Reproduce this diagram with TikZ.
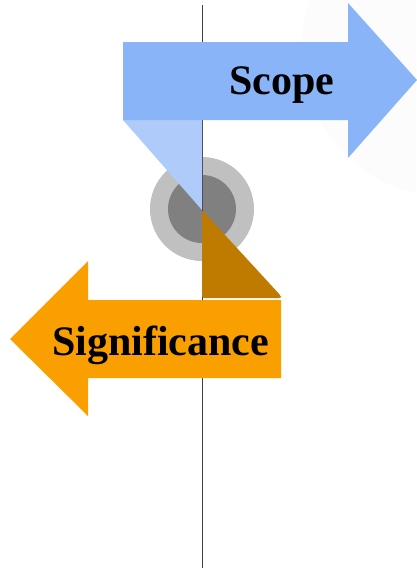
\documentclass[tikz,border=0pt]{standalone}
\usepackage{fontspec}
\setmainfont{Liberation Serif}
\definecolor{blueA}{HTML}{8AB4F8}
\definecolor{blueB}{HTML}{AECBFA}
\definecolor{orangeA}{HTML}{F9A000}
\definecolor{orangeB}{HTML}{BF7B00}
\definecolor{ringA}{HTML}{C0C0C0}
\definecolor{ringB}{HTML}{808080}
\definecolor{faint}{HTML}{FCFCFC}
\tikzset{lbl/.style={font=\bfseries\fontsize{42}{42}\selectfont, inner sep=0pt, anchor=base west, text=black}}
\begin{document}
\begin{tikzpicture}[x=1pt,y=-1pt]
\useasboundingbox (0,0) rectangle (416,568);
\fill[white] (0,0) rectangle (416,568);
\begin{scope}
\clip (0,0) rectangle (416,568);
\fill[faint] (452,48) circle (150);
\end{scope}
% rings
\fill[ringA] (202,209) circle (52);
\fill[ringB] (202,209) circle (34);
% axis
\draw[line width=0.9pt, black!75] (202,5) -- (202,568);
% folds
\fill[blueB] (123,120) -- (202,120) -- (202,210) -- cycle;
\fill[orangeB, rounded corners=2pt] (202,210) -- (202,298) -- (281,298) -- (281,296) -- cycle;
% arrows
\fill[blueA] (123,42) -- (348,42) -- (348,3) -- (417,80) -- (348,158) -- (348,120) -- (123,120) -- cycle;
\fill[orangeA] (281,300) -- (88,300) -- (88,261) -- (10,339) -- (88,416) -- (88,378) -- (281,378) -- cycle;
\node[lbl] (scope) at (229,94) {Scope};
\node[lbl] (sig) at (52,355) {Significance};
\end{tikzpicture}
\end{document}
